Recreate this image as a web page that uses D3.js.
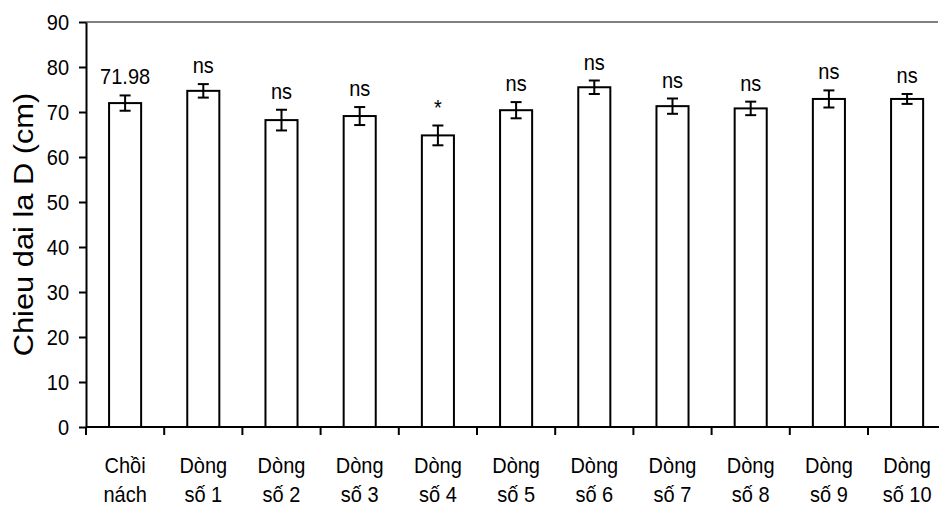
<!DOCTYPE html>
<html>
<head>
<meta charset="utf-8">
<script src="https://cdn.jsdelivr.net/npm/d3@7"></script>
<style>
  html, body { margin: 0; padding: 0; background: #fff; }
  svg { display: block; font-family: "Liberation Sans", Arial, sans-serif; }
</style>
</head>
<body>
<svg id="chart" width="939" height="506"></svg>
<script>
// Leaf length (cm) per line, with standard error and significance mark
const categories = ["Chồi nách", "Dòng số 1", "Dòng số 2", "Dòng số 3", "Dòng số 4", "Dòng số 5",
                    "Dòng số 6", "Dòng số 7", "Dòng số 8", "Dòng số 9", "Dòng số 10"];
const categoryLines = [["Chồi", "nách"], ["Dòng", "số 1"], ["Dòng", "số 2"], ["Dòng", "số 3"],
                       ["Dòng", "số 4"], ["Dòng", "số 5"], ["Dòng", "số 6"], ["Dòng", "số 7"],
                       ["Dòng", "số 8"], ["Dòng", "số 9"], ["Dòng", "số 10"]];
const values = [71.98, 74.7, 68.2, 69.1, 64.8, 70.4, 75.5, 71.3, 70.8, 72.9, 72.9];
const errors = [1.7, 1.5, 2.3, 2.0, 2.2, 1.8, 1.5, 1.7, 1.5, 1.9, 1.1];
const marks = ["71.98", "ns", "ns", "ns", "*", "ns", "ns", "ns", "ns", "ns", "ns"];
const yTicks = [0, 10, 20, 30, 40, 50, 60, 70, 80, 90];
const yTitle = "Chieu dai la D (cm)";

const svg = d3.select("#chart");
const plotLeft = 86, plotTop = 22, plotBottom = 427, step = 78.2;
const stretch = 1.1;   // glyphs are drawn slightly tall

const x = d3.scaleBand()
  .domain(categories)
  .range([plotLeft, plotLeft + step * categories.length])
  .paddingInner(0.59)
  .paddingOuter(0.295);

const y = d3.scaleLinear().domain([0, 90]).range([plotBottom, plotTop]);

// text anchored at a baseline point, stretched vertically
function label(parent, px, py, str, size, anchor) {
  return parent.append("text")
    .attr("transform", `translate(${px},${py}) scale(1,${stretch})`)
    .attr("text-anchor", anchor || "middle")
    .attr("font-size", size)
    .attr("fill", "#000")
    .text(str);
}

// top frame line
svg.append("line")
  .attr("x1", plotLeft).attr("x2", 938)
  .attr("y1", y(90)).attr("y2", y(90))
  .attr("stroke", "#808080").attr("stroke-width", 2);

// bars
svg.append("g").selectAll("rect")
  .data(categories)
  .join("rect")
  .attr("x", d => x(d))
  .attr("y", (d, i) => y(values[i]))
  .attr("width", x.bandwidth())
  .attr("height", (d, i) => y(0) - y(values[i]))
  .attr("fill", "#fff")
  .attr("stroke", "#000")
  .attr("stroke-width", 2);

// error bars
const eg = svg.append("g").attr("stroke", "#000").attr("stroke-width", 2);
categories.forEach((c, i) => {
  const cx = x(c) + x.bandwidth() / 2;
  const hi = y(values[i] + errors[i]), lo = y(values[i] - errors[i]);
  eg.append("line").attr("x1", cx).attr("x2", cx).attr("y1", hi).attr("y2", lo);
  eg.append("line").attr("x1", cx - 5.5).attr("x2", cx + 5.5).attr("y1", hi).attr("y2", hi);
  eg.append("line").attr("x1", cx - 5.5).attr("x2", cx + 5.5).attr("y1", lo).attr("y2", lo);
});

// significance / value labels
const mg = svg.append("g");
categories.forEach((c, i) => {
  label(mg, x(c) + x.bandwidth() / 2, y(values[i] + errors[i]) - 11, marks[i], 20);
});

// y axis
const yAxis = svg.append("g")
  .attr("transform", `translate(${plotLeft},0)`)
  .call(d3.axisLeft(y).tickValues(yTicks).tickSize(7).tickPadding(10).tickSizeOuter(0));
yAxis.select(".domain").attr("stroke", "#000").attr("stroke-width", 2);
yAxis.selectAll(".tick line").attr("stroke", "#000").attr("stroke-width", 2);
yAxis.selectAll(".tick text")
  .attr("font-size", 20).attr("fill", "#000")
  .attr("font-family", "Liberation Sans, Arial, sans-serif")
  .attr("transform", `scale(1,${stretch})`);

// x axis: ticks sit on category boundaries
const boundaries = d3.range(categories.length).map(i => plotLeft + i * step);
svg.append("line")
  .attr("x1", plotLeft).attr("x2", 939)
  .attr("y1", plotBottom).attr("y2", plotBottom)
  .attr("stroke", "#000").attr("stroke-width", 2);
svg.append("g").selectAll("line")
  .data(boundaries)
  .join("line")
  .attr("x1", d => d).attr("x2", d => d)
  .attr("y1", plotBottom).attr("y2", plotBottom + 8)
  .attr("stroke", "#000").attr("stroke-width", 2);

// category labels, two lines each
const xg = svg.append("g");
categories.forEach((c, i) => {
  const cx = x(c) + x.bandwidth() / 2;
  categoryLines[i].forEach((line, k) => label(xg, cx, 473 + k * 29, line, 20));
});

// y axis title, stretched along its length
svg.append("text")
  .attr("transform", `translate(33,${(plotTop + plotBottom) / 2}) rotate(-90) scale(${stretch},1)`)
  .attr("text-anchor", "middle")
  .attr("font-size", 28)
  .attr("fill", "#000")
  .text(yTitle);
</script>
</body>
</html>
